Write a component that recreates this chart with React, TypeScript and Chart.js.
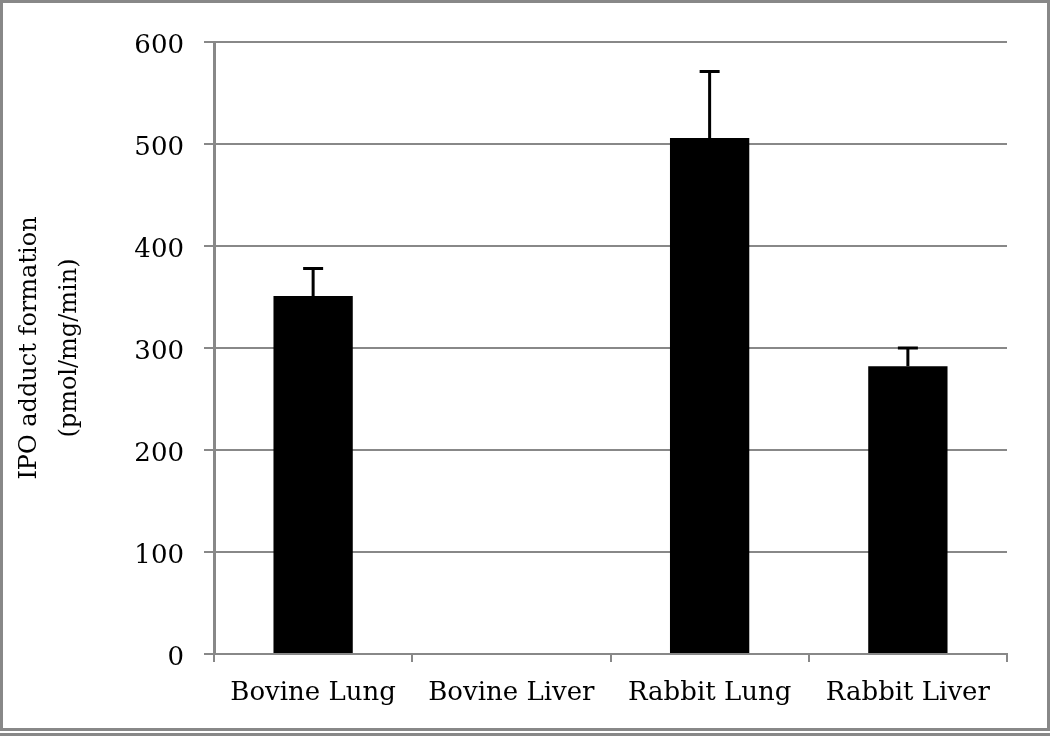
import React, { useEffect, useRef } from "react";
import { Chart, registerables } from "chart.js";

Chart.register(...registerables);

const categories = ["Bovine Lung", "Bovine Liver", "Rabbit Lung", "Rabbit Liver"];
const values = [351, 0, 506, 282];
const errorTops = [378, 0, 571, 300];
const yTicks = [0, 100, 200, 300, 400, 500, 600];
const yTitle = ["IPO adduct formation", "(pmol/mg/min)"];

const FONT = "'DejaVu Serif', 'Liberation Serif', serif";

const errorBarPlugin = {
  id: "errorBars",
  afterDatasetsDraw(chart: any) {
    const ctx = chart.ctx;
    const meta = chart.getDatasetMeta(0);
    const yScale = chart.scales.y;
    ctx.save();
    ctx.strokeStyle = "#000";
    ctx.lineWidth = 3;
    meta.data.forEach((bar: any, i: number) => {
      if (!values[i]) return;
      const x = bar.x;
      const y0 = yScale.getPixelForValue(values[i]);
      const y1 = yScale.getPixelForValue(errorTops[i]);
      ctx.beginPath();
      ctx.moveTo(x, y0);
      ctx.lineTo(x, y1);
      ctx.moveTo(x - 10, y1);
      ctx.lineTo(x + 10, y1);
      ctx.stroke();
    });
    ctx.restore();
  },
};

export default function App() {
  const ref = useRef<HTMLCanvasElement | null>(null);
  useEffect(() => {
    if (!ref.current) return;
    const chart = new Chart(ref.current, {
      type: "bar",
      data: {
        labels: categories,
        datasets: [
          {
            data: values,
            backgroundColor: "#000",
            borderWidth: 0,
            categoryPercentage: 1,
            barPercentage: 0.4,
          },
        ],
      },
      options: {
        responsive: false,
        animation: false,
        devicePixelRatio: 1,
        layout: { padding: { left: 0, right: 43, top: 42, bottom: 0 } },
        plugins: { legend: { display: false }, tooltip: { enabled: false } },
        scales: {
          x: {
            offset: true,
            grid: {
              display: true,
              offset: true,
              drawOnChartArea: false,
              tickLength: 8,
              color: "#888",
              lineWidth: 2,
            },
            border: { display: true, color: "#888", width: 2 },
            ticks: {
              color: "#000",
              font: { family: FONT, size: 26 },
              padding: 16,
              maxRotation: 0,
            },
            afterFit(scale: any) {
              scale.height = 82;
            },
          },
          y: {
            min: 0,
            max: 600,
            afterBuildTicks(scale: any) {
              scale.ticks = yTicks.map((v) => ({ value: v }));
            },
            grid: {
              color: "#888",
              lineWidth: 2,
              tickLength: 10,
            },
            border: { display: true, color: "#888", width: 3 },
            ticks: {
              color: "#000",
              font: { family: FONT, size: 26 },
              padding: 20,
              labelOffset: 4,
            },
            title: {
              display: true,
              text: yTitle,
              color: "#000",
              font: { family: FONT, size: 24, lineHeight: 1.7 },
              padding: { top: 9, bottom: 0 },
            },
            afterFit(scale: any) {
              scale.width = 214;
            },
          },
        },
      },
      plugins: [errorBarPlugin],
    });
    return () => chart.destroy();
  }, []);

  return (
    <div style={{ position: "fixed", left: 0, top: 0, width: 1050, height: 736, background: "#fff" }}>
      <canvas ref={ref} width={1050} height={736} style={{ position: "absolute", left: 0, top: 0, width: 1050, height: 736 }} />
      <div
        style={{
          position: "absolute",
          left: 0,
          top: 0,
          width: 1044,
          height: 725,
          border: "3px solid #888",
          pointerEvents: "none",
        }}
      />
      <div style={{ position: "absolute", left: 0, top: 733, width: 1050, height: 3, background: "#888" }} />
    </div>
  );
}
